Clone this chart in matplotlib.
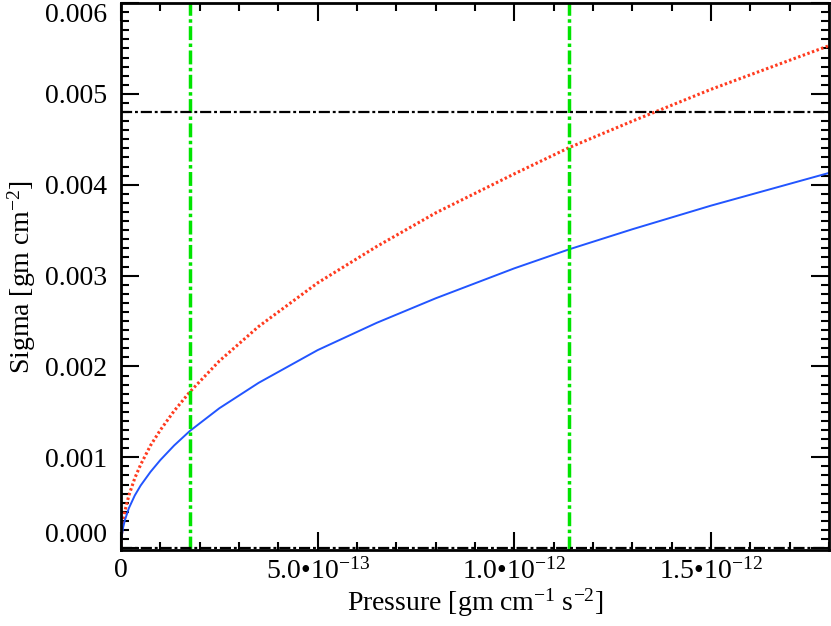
import numpy as np
import matplotlib
matplotlib.use("Agg")
import matplotlib.pyplot as plt
from matplotlib.ticker import MultipleLocator, FixedLocator, FixedFormatter

# pressure in units of 1e-13 gm cm^-1 s^-2
pressure = [0, 0.003, 0.01, 0.025, 0.05, 0.1, 0.2, 0.35, 0.5, 0.75, 1.0, 1.35, 1.75,
            2.5, 3.5, 5.0, 6.5, 8.0, 10.0, 11.4, 13.0, 15.0, 16.5, 18.0]
sigma_blue = [0, 0.00005, 0.0001, 0.00015, 0.00022, 0.00031, 0.00044, 0.00058,
              0.00069, 0.00084, 0.00097, 0.00113, 0.00129, 0.00154, 0.00182,
              0.00218, 0.00248, 0.00275, 0.00308, 0.00329, 0.00351, 0.00377,
              0.00395, 0.00413]
sigma_red = [0, 0.00007, 0.00013, 0.0002, 0.00029, 0.00041, 0.00058, 0.00077,
             0.00092, 0.00113, 0.0013, 0.00151, 0.00172, 0.00206, 0.00244,
             0.00292, 0.00332, 0.00369, 0.00412, 0.00441, 0.0047, 0.00505,
             0.00529, 0.00553]
p_marks = [1.75e-13, 1.14e-12]   # green vertical lines
sigma_limit = 0.0048             # black horizontal line

x_ticks = [0, 5e-13, 1e-12, 1.5e-12]
x_labels = ["0", "5.0•10$^{-13}$", "1.0•10$^{-12}$", "1.5•10$^{-12}$"]
y_ticks = [0, 0.001, 0.002, 0.003, 0.004, 0.005, 0.006]
y_labels = ["0.000", "0.001", "0.002", "0.003", "0.004", "0.005", "0.006"]

plt.rcParams['font.family'] = ['Liberation Serif', 'DejaVu Serif']
plt.rcParams['mathtext.fontset'] = 'custom'
plt.rcParams['mathtext.rm'] = 'Liberation Serif'
plt.rcParams['mathtext.it'] = 'Liberation Serif:italic'
plt.rcParams['mathtext.bf'] = 'Liberation Serif:bold'

fig = plt.figure(figsize=(8.31, 6.26), dpi=100)
ax = fig.add_axes([0.1456, 0.1214, 0.852, 0.8738])

p = np.array(pressure) * 1e-13
ax.plot(p, sigma_red, color='#ff3b1f', lw=2.2, linestyle=(0, (0.8, 0.8)))
ax.plot(p, sigma_blue, color='#2255ff', lw=1.4)
for pm in p_marks:
    ax.axvline(pm, color='#00e400', lw=2.5, linestyle=(0, (4, 1, 1, 1)))
ax.axhline(sigma_limit, color='black', lw=1.6, linestyle=(0, (5, 1.3, 1.3, 1.3)))
ax.axhline(0.0, color='black', lw=1.6, linestyle=(0, (5, 1.3, 1.3, 1.3)))

ax.set_xlim(0, 1.8e-12)
ax.set_ylim(-0.00002, 0.006)

ax.xaxis.set_major_locator(FixedLocator(x_ticks))
ax.xaxis.set_major_formatter(FixedFormatter(x_labels))
ax.xaxis.set_minor_locator(MultipleLocator(1e-13))
ax.yaxis.set_major_locator(FixedLocator(y_ticks))
ax.yaxis.set_major_formatter(FixedFormatter(y_labels))
ax.yaxis.set_minor_locator(MultipleLocator(0.0001))

ax.tick_params(which='both', direction='in', top=True, right=True, width=1.5, labelsize=20)
ax.tick_params(which='major', length=13)
ax.tick_params(axis='y', which='major', pad=10)
ax.tick_params(axis='x', which='major', pad=6)
ax.tick_params(which='minor', length=6)
for s in ax.spines.values():
    s.set_linewidth(2)

ax.set_xlabel(r"Pressure [gm cm$^{-1}$ s$^{-2}$]", fontsize=20, labelpad=1)
ax.set_ylabel(r"Sigma [gm cm$^{-2}$]", fontsize=20, labelpad=5)

# like IDL, keep the end labels inside the axis range
ylabs = ax.get_yticklabels()
ylabs[0].set_va('bottom')
ylabs[-1].set_va('top')

fig.savefig("out.png", dpi=100)
